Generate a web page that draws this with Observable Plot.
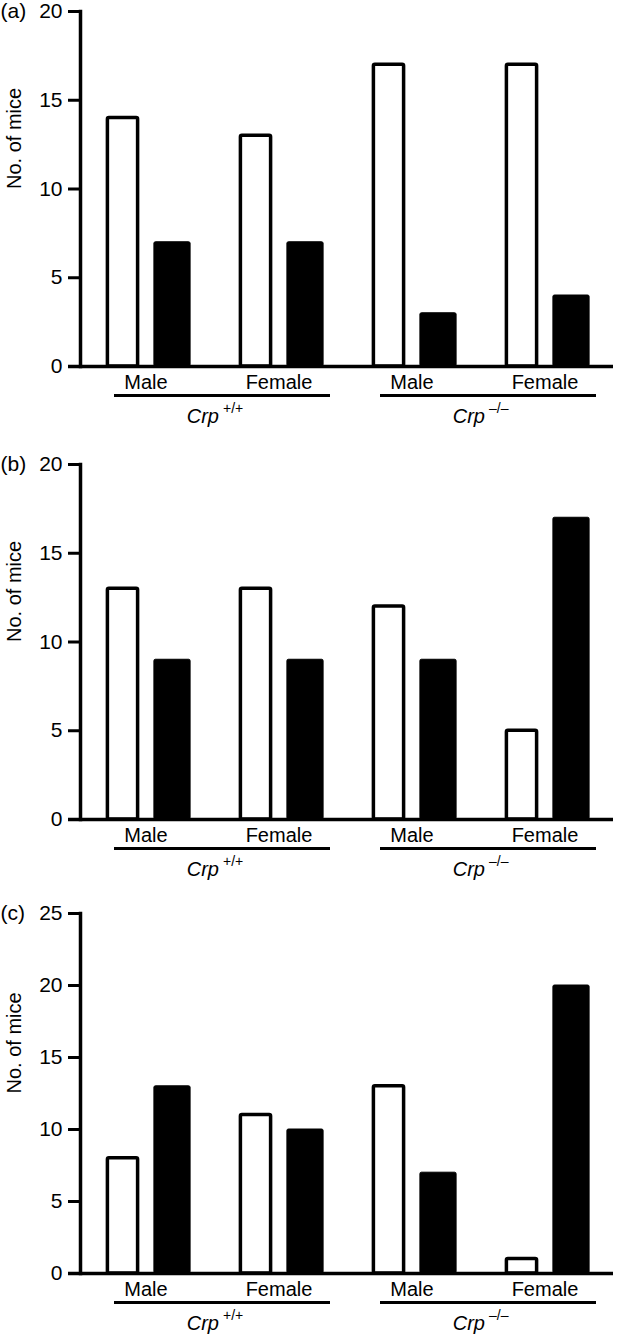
<!DOCTYPE html>
<html><head><meta charset="utf-8">
<script src="https://cdn.jsdelivr.net/npm/d3@7"></script>
<script src="https://cdn.jsdelivr.net/npm/@observablehq/plot@0.6"></script>
<style>
body{margin:0;background:#fff;}
#chart{position:relative;width:617px;height:1339px;overflow:hidden;background:#fff;}
.panel{position:absolute;left:0;}
.panel svg{overflow:visible;}
</style></head><body><div id="chart"></div>
<script>
// ---- data ----
const groups = ["Male +/+", "Female +/+", "Male −/−", "Female −/−"];
const sexLabels = ["Male", "Female", "Male", "Female"];
const genotypeName = "Crp";
const genotypeSup = ["+/+", "–/–"];
const panelLabels = ["(a)", "(b)", "(c)"];
const yLabel = "No. of mice";

const whiteA = [14, 13, 17, 17];
const blackA = [7, 7, 3, 4];
const whiteB = [13, 13, 12, 5];
const blackB = [9, 9, 9, 17];
const whiteC = [8, 11, 13, 1];
const blackC = [13, 10, 7, 20];

const ticksAB = [0, 5, 10, 15, 20];
const ticksC = [0, 5, 10, 15, 20, 25];

// ---- drawing ----
const font = "'Liberation Sans', Arial, Helvetica, sans-serif";

function panel(label, white, black, ticks, top, plotH, mb) {
  const rows = groups.map((g, i) => ({group: g, sex: sexLabels[i], white: white[i], black: black[i]}));
  const genos = [
    {x1: groups[0], x2: groups[1], anchor: groups[1], sup: genotypeSup[0]},
    {x1: groups[2], x2: groups[3], anchor: groups[3], sup: genotypeSup[1]}
  ];
  const ymax = ticks[ticks.length - 1];
  const svg = Plot.plot({
    width: 617,
    height: 11 + plotH + mb,
    marginTop: 11,
    marginLeft: 80,
    marginRight: 4,
    marginBottom: mb,
    style: {fontFamily: font, fontSize: "20px", color: "#000", background: "transparent", overflow: "visible"},
    x: {domain: groups, padding: 0, axis: null},
    y: {domain: [0, ymax], axis: null},
    marks: [
      Plot.barY(rows, {x: "group", y: "white", fill: "white", stroke: "black", strokeWidth: 3.5,
        strokeLinejoin: "round", rx: 1.5, insetLeft: 26.4, insetRight: 76.4}),
      Plot.barY(rows, {x: "group", y: "black", fill: "black", stroke: "black", strokeWidth: 1,
        strokeLinejoin: "round", rx: 1.5, insetLeft: 72.9, insetRight: 23.9}),
      Plot.axisY({ticks, tickSize: 12, strokeWidth: 3, tickPadding: 6, fontSize: 21, label: null}),
      Plot.frame({anchor: "left", strokeWidth: 3.5}),
      Plot.ruleY([0], {strokeWidth: 3.5, insetLeft: -12}),
      Plot.text(rows, {x: "group", y: 0, text: "sex", dy: 16, dx: -2, lineAnchor: "middle", fontSize: 20}),
      Plot.ruleY(genos, {x1: "x1", x2: "x2", y: 0, dy: 29, strokeWidth: 3, insetLeft: 33, insetRight: 17}),
      Plot.text(genos, {x: "anchor", y: 0, text: () => genotypeName, textAnchor: "end", fontStyle: "italic",
        fontSize: 20, lineAnchor: "middle", dx: -62, dy: 50}),
      Plot.text(genos, {x: "anchor", y: 0, text: "sup", textAnchor: "start", fontSize: 14,
        lineAnchor: "middle", dx: -58, dy: 42}),
      Plot.text([label], {frameAnchor: "top-left", dx: -80, textAnchor: "start", lineAnchor: "middle", fontSize: 21}),
      Plot.text([yLabel], {frameAnchor: "left", rotate: -90, dx: -66, dy: 0, fontSize: 20, lineAnchor: "middle"})
    ]
  });
  const div = document.createElement("div");
  div.className = "panel";
  div.style.top = top + "px";
  div.appendChild(svg);
  document.getElementById("chart").appendChild(div);
}

panel(panelLabels[0], whiteA, blackA, ticksAB, 0, 355, 87);
panel(panelLabels[1], whiteB, blackB, ticksAB, 453, 355, 87);
panel(panelLabels[2], whiteC, blackC, ticksC, 902, 360, 66);
</script></body></html>
